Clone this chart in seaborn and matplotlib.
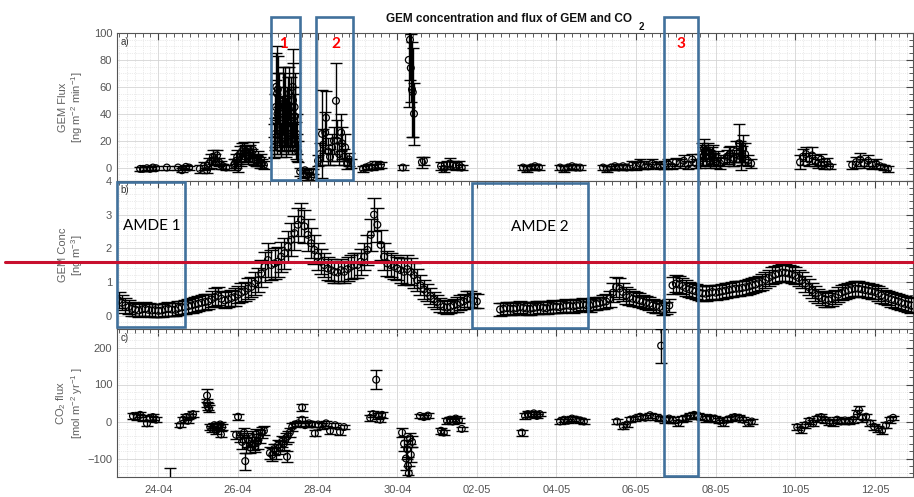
import numpy as np
import pandas as pd
import matplotlib
matplotlib.use("Agg")
import matplotlib.pyplot as plt
import matplotlib.dates as mdates
from matplotlib.ticker import MultipleLocator, FixedLocator
from matplotlib.transforms import blended_transform_factory
from matplotlib.patches import Rectangle
from matplotlib.lines import Line2D
import seaborn as sns

# ---------------- data ----------------
START = "2014-04-23 00:00"          # day offsets below are counted from here
YEAR = "2014"

# a) GEM flux (ng m-2 min-1)
flux_day = [0.54, 0.61, 0.71, 0.79, 0.86, 0.94, 1.21, 1.49, 1.59, 1.69, 1.77,
            2.04, 2.14, 2.22, 2.27, 2.32, 2.37, 2.42, 2.47, 2.52, 2.57, 2.62, 2.70,
            2.90, 2.95, 3.00, 3.05, 3.10, 3.15, 3.20, 3.25, 3.30, 3.35, 3.40, 3.45, 3.50, 3.55, 3.60, 3.65,
            3.90, 3.93, 3.95, 3.98, 4.00, 4.03, 4.05, 4.08, 4.10, 4.13, 4.15, 4.18, 4.20, 4.23, 4.25,
            4.28, 4.30, 4.33, 4.36, 4.38, 4.41, 4.43, 4.46, 4.48, 4.51,
            4.56, 4.63, 4.68, 4.73, 4.78, 4.83, 4.88,
            5.01, 5.06, 5.11, 5.14, 5.19, 5.21, 5.26, 5.31, 5.36, 5.41, 5.46, 5.49, 5.54, 5.59, 5.61,
            5.66, 5.69, 5.74, 5.79, 5.84,
            6.14, 6.21, 6.29, 6.36, 6.44, 6.52, 6.59,
            7.14, 7.29, 7.32, 7.34, 7.37, 7.39, 7.42, 7.62, 7.67,
            8.10, 8.17, 8.25, 8.32, 8.40, 8.47, 8.55, 8.62,
            10.16, 10.26, 10.36, 10.46, 10.56,
            11.09, 11.19, 11.29, 11.39, 11.49, 11.59,
            12.17, 12.27, 12.37, 12.47, 12.57, 12.67, 12.77,
            12.90, 13.00, 13.10, 13.20, 13.30, 13.40, 13.50, 13.60,
            13.70, 13.80, 13.90, 14.00, 14.10, 14.20, 14.30, 14.41, 14.51, 14.61,
            14.66, 14.71, 14.76, 14.81, 14.86, 14.91, 14.96, 15.01, 15.06, 15.11,
            15.21, 15.28, 15.36, 15.43, 15.51, 15.59, 15.64, 15.69, 15.74, 15.81, 15.89,
            17.12, 17.19, 17.27, 17.34, 17.42, 17.50, 17.57, 17.65, 17.72, 17.80, 17.87,
            18.43, 18.53, 18.63, 18.73, 18.83, 18.93, 19.03, 19.13, 19.23, 19.33,
            3.91, 3.94, 3.96, 3.99, 4.02, 4.06, 4.11, 4.16, 4.21, 4.26, 4.31, 4.37, 4.42, 4.47,
            2.92, 2.98, 3.08, 3.18, 3.28, 3.38, 3.48, 3.58,
            14.68, 14.73, 14.83, 14.93, 15.33, 15.46, 15.61, 15.66]
flux_val = [-1, -1, -0.5, -1, 0, -0.5, 0, 0, -2, 0.5, 0,
            -1, 1, -2, 3, 5, 8, 6, 9, 4, 2, 1, 0,
            2, 5, 0, 10, 12, 14, 10, 8, 12, 9, 6, 5, 7, 4, 3, 2,
            15, 25, 45, 55, 58, 30, 40, 20, 35, 50, 28, 45, 18, 38, 25,
            55, 30, 42, 22, 50, 35, 38, 20, 15, 12,
            -3, -5, -2, -6, -4, -7, -3,
            5, 10, 25, 17, 26, 37, 12, 8, 15, 20, 49.6, 20, 10, 26, 18,
            8, 15, 3, 6, 3,
            -1, 0, 1, 0, 2, 1, 2,
            0, 80, 95, 74, 58, 56, 40, 4, 5,
            1, -1, 2, 3, 2, 1, 2, 0,
            0, -1, 0, 1, 0,
            0, -1, 0, 1, 0, 0,
            0, -1, 0, 1, 0, 1, 0,
            2, 1, 3, 2, 1, 3, 2, 1,
            2, 3, 1, 4, 3, 5, 2, 6, 3, 5,
            10, 14, 8, 12, 5, 9, 6, 4, 7, 3,
            5, 8, 10, 6, 12, 18, 8, 14, 10, 5, 3,
            4, 8, 10, 6, 9, 5, 3, 6, 2, 4, 1,
            2, 4, 6, 3, 5, 2, 3, 1, 0, -1,
            20, 35, 60, 40, 45, 25, 30, 48, 32, 42, 28, 60, 45, 25,
            3, 8, 6, 11, 9, 13, 5, 6,
            8, 11, 7, 10, 9, 7, 12, 9]
flux_err = [1.5, 1.5, 1.5, 1.5, 1.5, 1.5, 1.5, 1.5, 1.5, 1.5, 1.5,
            3, 3, 2, 4, 5, 5, 4, 4, 3, 3, 2, 2,
            4, 5, 3, 6, 6, 5, 6, 5, 5, 5, 4, 4, 5, 4, 3, 3,
            8, 12, 20, 35, 25, 15, 20, 12, 18, 25, 15, 30, 10, 22, 15,
            20, 18, 25, 12, 28, 20, 22, 14, 10, 8,
            3, 3, 2, 3, 3, 2, 2,
            4, 8, 33, 12, 15, 20, 10, 6, 10, 10, 28, 15, 8, 14, 12,
            6, 10, 4, 5, 3,
            2, 2, 2, 2, 3, 2, 2,
            2, 35, 30, 25, 35, 33, 23, 4, 3,
            3, 2, 3, 4, 3, 3, 3, 2,
            2, 2, 2, 2, 2,
            2, 2, 2, 2, 2, 2,
            2, 2, 1.5, 2, 2, 2, 2,
            3, 3, 3, 3, 2, 3, 2, 2,
            3, 3, 2, 3, 3, 4, 3, 4, 3, 5,
            8, 7, 6, 6, 5, 6, 5, 4, 5, 4,
            4, 5, 6, 5, 8, 14, 10, 10, 8, 4, 3,
            5, 6, 5, 5, 6, 4, 3, 4, 3, 3, 2,
            3, 4, 5, 3, 4, 3, 3, 2, 2, 2,
            12, 20, 25, 30, 25, 15, 18, 22, 20, 25, 15, 28, 25, 15,
            3, 5, 5, 6, 5, 6, 4, 4,
            7, 6, 6, 7, 6, 6, 8, 7]

# b) GEM concentration (ng m-3), 2-hourly from START
conc_val = [0.45, 0.38, 0.30, 0.25, 0.20, 0.18, 0.15, 0.18, 0.20, 0.17, 0.15, 0.16,
            0.14, 0.15, 0.18, 0.20, 0.18, 0.17, 0.22, 0.24, 0.25, 0.28, 0.30, 0.33,
            0.35, 0.38, 0.40, 0.42, 0.48, 0.55, 0.58, 0.50, 0.45, 0.48, 0.52, 0.55,
            0.62, 0.68, 0.72, 0.80, 0.85, 0.95, 1.05, 1.25, 1.45, 1.65, 1.50, 1.55,
            1.60, 1.75, 1.85, 2.05, 2.25, 2.45, 2.70, 2.85, 2.65, 2.40, 2.15, 1.95,
            1.75, 1.60, 1.50, 1.40, 1.35, 1.30, 1.28, 1.35, 1.30, 1.38, 1.45, 1.50,
            1.50, 1.60, 1.75, 1.95, 2.40, 3.00, 2.70, 2.10, 1.75, 1.55, 1.50, 1.45,
            1.40, 1.35, 1.30, 1.38, 1.30, 1.20, 1.05, 0.90, 0.78, 0.68, 0.58, 0.48,
            0.40, 0.32, 0.26, 0.24, 0.26, 0.30, 0.33, 0.38, 0.42, 0.48, 0.50, 0.45,
            0.42, np.nan, np.nan, np.nan, np.nan, np.nan, np.nan, 0.18, 0.20, 0.22, 0.21, 0.20,
            0.22, 0.25, 0.23, 0.21, 0.20, 0.22, 0.24, 0.26, 0.23, 0.22, 0.25, 0.27,
            0.26, 0.25, 0.28, 0.30, 0.29, 0.27, 0.30, 0.31, 0.33, 0.31, 0.30, 0.34,
            0.35, 0.37, 0.40, 0.42, 0.50, 0.68, 0.85, 0.80, 0.70, 0.60, 0.55, 0.50,
            0.48, 0.45, 0.42, 0.38, 0.35, 0.30, 0.28, 0.25, 0.20, 0.22, 0.30, 0.90,
            0.95, 0.92, 0.88, 0.82, 0.78, 0.75, 0.72, 0.68, 0.66, 0.65, 0.67, 0.70,
            0.68, 0.70, 0.72, 0.74, 0.76, 0.78, 0.80, 0.80, 0.82, 0.84, 0.86, 0.90,
            0.92, 0.96, 1.00, 1.06, 1.12, 1.18, 1.22, 1.25, 1.28, 1.27, 1.25, 1.22,
            1.18, 1.12, 1.05, 0.95, 0.85, 0.75, 0.65, 0.58, 0.52, 0.48, 0.46, 0.50,
            0.55, 0.62, 0.68, 0.72, 0.75, 0.78, 0.80, 0.80, 0.78, 0.76, 0.74, 0.72,
            0.70, 0.65, 0.60, 0.55, 0.52, 0.48, 0.45, 0.42, 0.38, 0.35, 0.33, 0.30]
conc_err = [0.24, 0.22, 0.21, 0.20, 0.20, 0.19, 0.19, 0.20, 0.20, 0.19, 0.19, 0.19,
            0.19, 0.19, 0.19, 0.20, 0.19, 0.19, 0.20, 0.20, 0.20, 0.21, 0.21, 0.21,
            0.22, 0.22, 0.23, 0.23, 0.24, 0.26, 0.26, 0.24, 0.24, 0.24, 0.24, 0.26,
            0.26, 0.28, 0.28, 0.31, 0.31, 0.34, 0.36, 0.40, 0.45, 0.50, 0.45, 0.45,
            0.45, 0.45, 0.47, 0.47, 0.49, 0.50, 0.50, 0.50, 0.50, 0.47, 0.45, 0.43,
            0.40, 0.37, 0.35, 0.33, 0.33, 0.32, 0.32, 0.33, 0.33, 0.35, 0.35, 0.37,
            0.37, 0.39, 0.41, 0.45, 0.47, 0.50, 0.50, 0.45, 0.40, 0.37, 0.35, 0.35,
            0.35, 0.37, 0.40, 0.43, 0.40, 0.37, 0.33, 0.30, 0.28, 0.26, 0.24, 0.22,
            0.21, 0.20, 0.19, 0.19, 0.19, 0.20, 0.21, 0.22, 0.23, 0.24, 0.24, 0.22,
            0.21, np.nan, np.nan, np.nan, np.nan, np.nan, np.nan, 0.18, 0.18, 0.18, 0.18, 0.18,
            0.18, 0.18, 0.18, 0.18, 0.18, 0.18, 0.18, 0.18, 0.18, 0.18, 0.18, 0.18,
            0.18, 0.18, 0.18, 0.18, 0.18, 0.18, 0.18, 0.18, 0.18, 0.18, 0.18, 0.18,
            0.19, 0.19, 0.20, 0.21, 0.24, 0.28, 0.31, 0.31, 0.28, 0.26, 0.24, 0.22,
            0.21, 0.21, 0.20, 0.20, 0.19, 0.19, 0.19, 0.18, 0.18, 0.18, 0.19, 0.26,
            0.26, 0.26, 0.24, 0.24, 0.23, 0.23, 0.22, 0.22, 0.22, 0.22, 0.22, 0.22,
            0.22, 0.22, 0.22, 0.22, 0.22, 0.22, 0.22, 0.22, 0.22, 0.22, 0.22, 0.22,
            0.23, 0.23, 0.24, 0.24, 0.24, 0.25, 0.25, 0.25, 0.25, 0.25, 0.25, 0.25,
            0.25, 0.24, 0.24, 0.24, 0.23, 0.23, 0.22, 0.22, 0.22, 0.22, 0.22, 0.22,
            0.22, 0.22, 0.22, 0.22, 0.22, 0.22, 0.22, 0.22, 0.22, 0.22, 0.22, 0.22,
            0.22, 0.22, 0.22, 0.22, 0.22, 0.22, 0.22, 0.22, 0.22, 0.22, 0.22, 0.22]

# c) CO2 flux (mol m-2 yr-1)
co2_day = [0.36, 0.46, 0.54, 0.61, 0.71, 0.79, 0.86, 0.94,
           1.29,
           1.54, 1.62, 1.69, 1.74, 1.79, 1.87,
           2.22, 2.22, 2.24, 2.27,
           2.30, 2.35, 2.40, 2.45, 2.50, 2.55, 2.57, 2.60,
           2.95, 3.00, 3.18,
           3.05, 3.10, 3.15, 3.20, 3.25, 3.30, 3.35, 3.40, 3.43, 3.45, 3.50, 3.55, 3.60, 3.65,
           3.80, 3.86, 3.90, 3.95, 4.00, 4.05, 4.10, 4.15, 4.20, 4.23, 4.25, 4.30,
           4.36, 4.43, 4.51, 4.61, 4.61, 4.68, 4.78, 4.86, 4.93,
           5.01, 5.11, 5.21, 5.31, 5.44, 5.56, 5.66,
           6.32, 6.39, 6.47, 6.52, 6.57, 6.62,
           7.12, 7.17, 7.22, 7.25, 7.27, 7.29, 7.32, 7.34, 7.37,
           7.57, 7.67, 7.77,
           8.10, 8.17, 8.25, 8.32, 8.40, 8.47, 8.55, 8.62,
           10.13, 10.21, 10.28, 10.36, 10.43, 10.51, 10.58,
           11.09, 11.19, 11.29, 11.39, 11.49, 11.59, 11.69,
           12.52, 12.67, 12.77, 12.85, 12.97, 13.10, 13.23, 13.35, 13.48, 13.60,
           13.63,
           13.73, 13.83, 13.93, 14.06, 14.16, 14.26, 14.36, 14.46, 14.56, 14.66, 14.76,
           14.86, 14.98, 15.09, 15.19, 15.29, 15.38, 15.48, 15.59, 15.69, 15.81, 15.91,
           17.05, 17.15, 17.25, 17.35, 17.45, 17.55, 17.65, 17.75, 17.85, 17.95, 18.05, 18.15, 18.25,
           18.35, 18.45, 18.55, 18.60, 18.68, 18.78, 18.88, 18.98, 19.08, 19.18, 19.28, 19.38, 19.46]
co2_val = [15, 12, 18, 10, -5, 8, 12, 5,
           -175,
           -10, 5, 12, 2, 15, 20,
           70, 50, 40, 35,
           -15, -20, -10, -25, -12, -8, -35, -15,
           -36, 13, -107,
           -40, -55, -30, -65, -50, -70, -45, -60, -68, -35, -55, -40, -30, -25,
           -85, -90, -75, -80, -65, -70, -55, -60, -45, -95, -40, -30,
           -15, -8, -5, 5, 38, -10, -5, -8, -32,
           -8, -12, -5, -25, -10, -28, -15,
           10, 20, 113, 15, 5, 18,
           -30, -60, -100, -75, -120, -140, -45, -90, -55,
           15, 12, 16,
           -25, -30, 2, 5, 0, 8, 3, -20,
           -30, 15, 20, 18, 22, 15, 20,
           0, 5, 2, 8, 5, 3, 0,
           0, -13, -8, 5, 8, 13, 10, 17, 12, 8,
           205,
           5, 8, 3, -4, 6, 10, 14, 18, 15, 12, 8,
           10, 8, 2, -4, 5, 8, 12, 10, 5, -4, 0,
           -15, -22, -10, 2, -5, 8, 12, 5, -2, -4, 5, 0, 3,
           0, 5, 20, 31, 10, 13, -5, -14, -20, -25, -10, 5, 10]
co2_err = [8, 8, 7, 8, 8, 7, 8, 6,
           50,
           5, 8, 8, 6, 6, 8,
           17, 12, 10, 10,
           8, 8, 7, 8, 7, 6, 8, 8,
           10, 8, 23,
           15, 18, 12, 20, 18, 15, 20, 18, 15, 15, 20, 18, 15, 12,
           15, 18, 15, 20, 15, 18, 15, 18, 15, 15, 15, 12,
           10, 8, 7, 8, 10, 6, 6, 6, 8,
           6, 7, 6, 8, 6, 8, 6,
           8, 8, 25, 8, 6, 8,
           12, 20, 30, 25, 25, 20, 15, 20, 15,
           6, 6, 6,
           8, 6, 8, 7, 8, 8, 6, 6,
           8, 8, 8, 7, 6, 6, 6,
           6, 6, 6, 6, 6, 6, 6,
           6, 6, 6, 6, 6, 7, 7, 7, 7, 7,
           46,
           8, 8, 8, 8, 8, 8, 8, 8, 8, 8, 8,
           8, 8, 7, 7, 7, 7, 7, 7, 7, 7, 6,
           8, 8, 8, 8, 8, 8, 8, 8, 8, 8, 8, 8, 6,
           8, 8, 12, 10, 10, 8, 8, 8, 8, 8, 8, 8, 6]

xtick_labels = ["24-04", "26-04", "28-04", "30-04", "02-05",
                "04-05", "06-05", "08-05", "10-05", "12-05"]

panel_letters = ["a)", "b)", "c)"]
ylabels = ["GEM Flux\n[ng m$^{-2}$ min$^{-1}$]",
           "GEM Conc\n[ng m$^{-3}$]",
           "CO$_2$ flux\n[mol m$^{-2}$ yr$^{-1}$ ]"]

# ---------------- tables ----------------
t0 = pd.Timestamp(START)
df_flux = pd.DataFrame({"time": t0 + pd.to_timedelta(flux_day, unit="D"),
                        "val": flux_val, "err": flux_err})
df_conc = pd.DataFrame({"time": pd.date_range(t0, periods=len(conc_val), freq="2h"),
                        "val": conc_val, "err": conc_err})
df_co2 = pd.DataFrame({"time": t0 + pd.to_timedelta(co2_day, unit="D"),
                       "val": co2_val, "err": co2_err})
tick_dates = [pd.Timestamp(f"{YEAR}-{lab[3:5]}-{lab[0:2]}") for lab in xtick_labels]

# ---------------- style ----------------
sns.set_style("white")
plt.rcParams["font.family"] = ["Liberation Sans", "DejaVu Sans"]
plt.rcParams["mathtext.fontset"] = "custom"
plt.rcParams["mathtext.rm"] = "Liberation Sans"
plt.rcParams["mathtext.it"] = "Liberation Sans:italic"

W, H = 914, 497
fig = plt.figure(figsize=(W / 100, H / 100), dpi=100)
gs = fig.add_gridspec(3, 1, left=117 / W, right=913 / W, top=1 - 33 / H,
                      bottom=1 - 477 / H, hspace=0)
ax0 = fig.add_subplot(gs[0])
ax1 = fig.add_subplot(gs[1], sharex=ax0)
ax2 = fig.add_subplot(gs[2], sharex=ax0)
axes = [ax0, ax1, ax2]

specs = [(df_flux, 4.5, (-10, 100), 20, 5),
         (df_conc, 5.0, (-0.4, 4), 1, 0.2),
         (df_co2, 4.5, (-150, 250), 100, 20)]

tick_col = "#555555"
for i, (ax, (df, cap, ylim, ymaj, ymin)) in enumerate(zip(axes, specs)):
    ax.errorbar(df["time"], df["val"], yerr=df["err"], fmt="none",
                ecolor="black", elinewidth=1.0, capsize=cap, capthick=1.0, zorder=3)
    sns.scatterplot(data=df, x="time", y="val", ax=ax, marker="o", s=24,
                    facecolor="none", edgecolor="black", linewidth=0.9,
                    zorder=4, legend=False)
    ax.set_ylim(*ylim)
    ax.yaxis.set_major_locator(MultipleLocator(ymaj))
    ax.yaxis.set_minor_locator(MultipleLocator(ymin))
    ax.xaxis.set_major_locator(FixedLocator(mdates.date2num(tick_dates)))
    ax.xaxis.set_minor_locator(MultipleLocator(0.2))
    ax.grid(which="major", color="#d4d4d4", lw=0.6, ls="-")
    ax.grid(which="minor", color="#d8d8d8", lw=0.5, ls=":")
    ax.set_axisbelow(True)
    ax.tick_params(which="both", direction="in", top=True, right=True,
                   color="#444444", labelcolor=tick_col, labelsize=8)
    ax.tick_params(which="major", length=5, width=0.8)
    ax.tick_params(which="minor", length=3, width=0.6)
    for sp in ax.spines.values():
        sp.set_color("#555555")
        sp.set_linewidth(0.8)
    ax.set_xlabel("")
    ax.set_ylabel(ylabels[i], fontsize=8, color="#606060", linespacing=1.1)
    ax.yaxis.set_label_coords(-0.040, 0.5)
    ax.text(0.004, 0.975, panel_letters[i], transform=ax.transAxes, fontsize=7,
            va="top", ha="left", color="#333333")

ax0.set_yticks([0, 20, 40, 60, 80, 100])
ax2.set_yticks([-100, 0, 100, 200])
ax0.set_xlim(t0 - pd.Timedelta(hours=1), pd.Timestamp(f"{YEAR}-05-12 23:00"))
ax2.set_xticklabels(xtick_labels)
plt.setp(ax0.get_xticklabels(), visible=False)
plt.setp(ax1.get_xticklabels(), visible=False)
ax2.tick_params(axis="x", pad=6)

# ---------------- annotations ----------------
bt = blended_transform_factory(ax0.transData, fig.transFigure)
box_col = "#41719C"

def fy(px):
    return 1 - px / H

def add_box(x0, x1, ytop, ybot):
    a = mdates.date2num(pd.Timestamp(x0))
    b = mdates.date2num(pd.Timestamp(x1))
    fig.add_artist(Rectangle((a, fy(ybot)), b - a, fy(ytop) - fy(ybot), transform=bt,
                             fill=False, ec=box_col, lw=1.9, zorder=20, clip_on=False))

add_box(f"{YEAR}-04-26 20:00", f"{YEAR}-04-27 13:30", 17, 180)
add_box(f"{YEAR}-04-27 23:00", f"{YEAR}-04-28 21:20", 17, 180)
add_box(f"{YEAR}-05-06 16:50", f"{YEAR}-05-07 13:20", 17, 476)
add_box(f"{YEAR}-04-22 23:00", f"{YEAR}-04-24 16:00", 182, 327)
add_box(f"{YEAR}-05-01 21:00", f"{YEAR}-05-04 19:00", 183, 328)

def ftext(when, ypx, s, **kw):
    fig.text(mdates.date2num(pd.Timestamp(when)), fy(ypx), s, transform=bt,
             ha="center", va="center", zorder=21, **kw)

for when, lab in [(f"{YEAR}-04-27 03:40", "1"), (f"{YEAR}-04-28 11:00", "2"),
                  (f"{YEAR}-05-07 03:00", "3")]:
    ftext(when, 44, lab, color="#FF0000", fontsize=11, fontweight="bold",
          family=["Lato", "DejaVu Sans"])
ftext(f"{YEAR}-04-23 20:00", 226, "AMDE 1", color="black", fontsize=11,
      family=["Lato", "DejaVu Sans"])
ftext(f"{YEAR}-05-03 14:00", 227, "AMDE 2", color="black", fontsize=11,
      family=["Lato", "DejaVu Sans"])

fig.add_artist(Line2D([5 / W, 1.0], [fy(261.5), fy(261.5)], transform=fig.transFigure,
                      color="#C8102E", lw=2.2, zorder=22))

fig.text(509 / W, fy(19), "GEM concentration and flux of GEM and CO", ha="center",
         va="center", fontsize=8.5, fontweight="bold", color="#111111")
fig.text(641 / W, fy(27), "2", ha="center", va="center", fontsize=7,
         fontweight="bold", color="#111111")

fig.savefig("out.png", dpi=100)
